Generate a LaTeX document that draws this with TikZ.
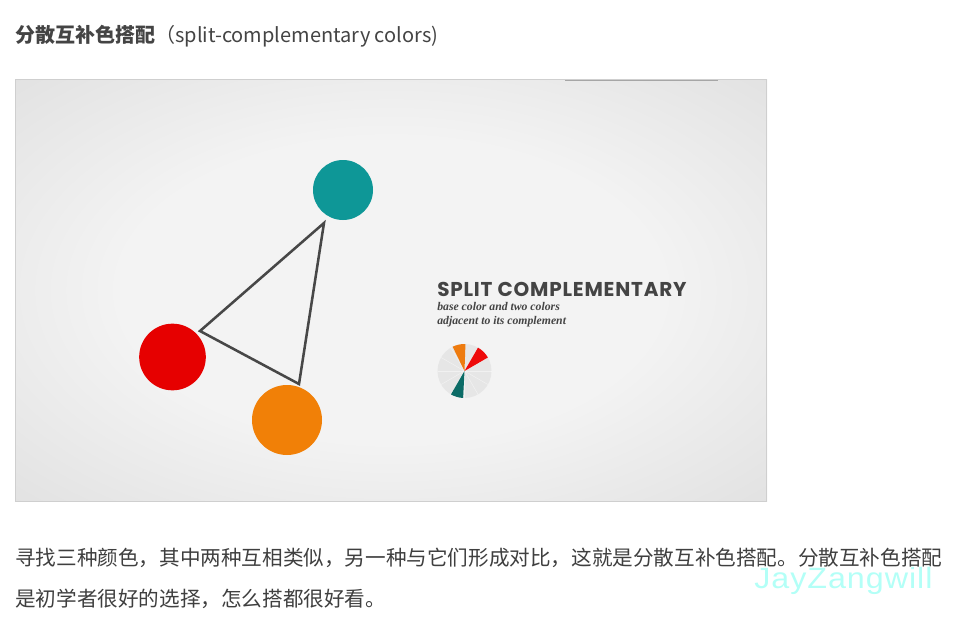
\documentclass[tikz,border=0pt]{standalone}
\usepackage{fontspec}
\newfontfamily\cjk{Noto Sans CJK SC}
\newfontfamily\headfont{Poppins}[LetterSpace=4]
\newfontfamily\notefont{Liberation Serif}
\newfontfamily\markfont{Liberation Sans}[LetterSpace=3]
\usetikzlibrary{positioning,calc}
\definecolor{inkgray}{HTML}{444444}
\definecolor{bodygray}{HTML}{3F3F3F}
\definecolor{panellight}{HTML}{F3F3F3}
\definecolor{paneldark}{HTML}{D4D4D4}
\definecolor{panelrim}{HTML}{CFCFCF}
\definecolor{swteal}{HTML}{0E9797}
\definecolor{swred}{HTML}{E60000}
\definecolor{sworange}{HTML}{F18007}
\definecolor{trigray}{HTML}{474747}
\definecolor{piegray}{HTML}{E6E6E6}
\definecolor{pieteal}{HTML}{0B6B66}
\definecolor{piered}{HTML}{EE0A0A}
\definecolor{pieorange}{HTML}{EE7B0F}
\definecolor{markcyan}{HTML}{B3FFF7}
\pgfdeclareradialshading{panelglow}{\pgfpoint{0bp}{0bp}}{color(0bp)=(panellight); color(18bp)=(panellight); color(50bp)=(paneldark)}
\tikzset{
  swatch/.style={circle, inner sep=0pt},
  tri/.style={trigray, line width=1.9pt, line join=miter},
  body/.style={anchor=west, inner sep=0pt, text=bodygray, font=\cjk\fontsize{15.45}{18}\selectfont},
  note/.style={anchor=base west, inner sep=0pt, text=inkgray, font=\notefont\bfseries\itshape\fontsize{8.8}{10}\selectfont}
}

\begin{document}
\begin{tikzpicture}[x=0.75pt, y=-0.75pt]
  \useasboundingbox (0,0) rectangle (975,621);
  \fill[white] (0,0) rectangle (975,621);

  % title
  \node[anchor=west, inner sep=0pt, text=inkgray, font=\cjk\fontsize{15}{18}\selectfont] (title) at (15,36) {\textbf{分散互补色搭配}（split-complementary colors)};

  % picture panel
  \shade[shading=panelglow] (15,79) rectangle (767,501);
  \draw[panelrim, line width=0.75pt] (15.5,79.5) rectangle (766.5,501);
  \draw[gray!70, line width=0.9pt] (565,80.5) -- (718,80.5);

  \node[swatch, fill=swteal, minimum size=45pt] (teal) at (343,190) {};
  \node[swatch, fill=swred, minimum size=50pt] (red) at (172.5,357) {};
  \node[swatch, fill=sworange, minimum size=52.5pt] (orange) at (287,420) {};

  \coordinate (tTop) at (324,223);
  \coordinate (tLeft) at (200,331);
  \coordinate (tBot) at (299,384);
  \draw[tri] (tTop) -- (tLeft) -- (tBot) -- cycle;

  \node[anchor=base west, inner sep=0pt, text=inkgray, font=\headfont\bfseries\fontsize{15}{17}\selectfont] (head) at (437,296) {SPLIT COMPLEMENTARY};
  \node[note] (note1) at (437,310) {base color and two colors};
  \node[note] (note2) at (437,324) {adjacent to its complement};

  % little wheel
  \node[circle, fill=piegray, minimum size=40.5pt, inner sep=0pt] (pie) at (464.5,371) {};
  \foreach \a in {0,30,...,330}
    \draw[white, line width=0.4pt, opacity=0.45] (pie.center) -- ++(\a:27);
  \fill[pieorange] (pie.center) -- ++(-88:27) arc[start angle=-88, end angle=-116, radius=27] -- cycle;
  \fill[piered] (pie.center) -- ++(-30:27) arc[start angle=-30, end angle=-60, radius=27] -- cycle;
  \fill[pieteal] (pie.center) -- ++(93:27) arc[start angle=93, end angle=120, radius=27] -- cycle;

  % text below
  \node[body] (line1) at (15,558) {寻找三种颜色，其中两种互相类似，另一种与它们形成对比，这就是分散互补色搭配。分散互补色搭配};
  \node[body] (line2) at (15,599) {是初学者很好的选择，怎么搭都很好看。};

  \node[anchor=base west, inner sep=0pt, text=markcyan, font=\markfont\fontsize{22}{24}\selectfont] (mark) at (754,588) {\scalebox{1.1}[1]{JayZangwill}};
\end{tikzpicture}
\end{document}
